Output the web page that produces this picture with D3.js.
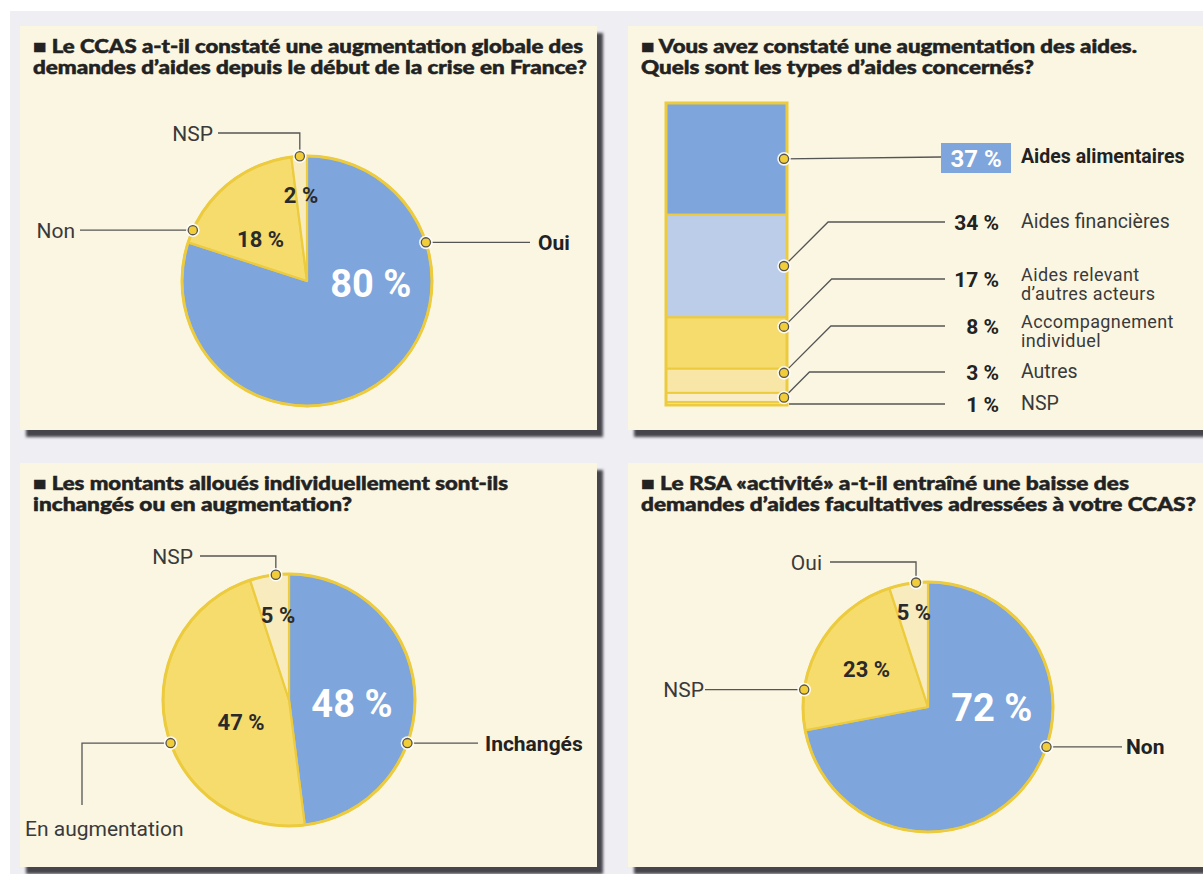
<!DOCTYPE html>
<html>
<head>
<meta charset="utf-8">
<script src="https://cdn.jsdelivr.net/npm/d3@7"></script>
<style>
  body { margin: 0; background: #fff; }
  svg { display: block; }
  .titre { font-family: Lato, "Open Sans", sans-serif; font-weight: 900; font-size: 18.5px; fill: #222; stroke: #222; stroke-width: 0.5px; }
  .lab { font-family: Roboto, "Liberation Sans", sans-serif; font-size: 21px; fill: #333; }
</style>
</head>
<body>
<svg id="chart" width="1203" height="874"></svg>
<script>
// --- données ---
const titre1 = ["■ Le CCAS a-t-il constaté une augmentation globale des", "demandes d’aides depuis le début de la crise en France?"];
const reponses1 = ["Oui", "Non", "NSP"];
const valeurs1 = [80, 18, 2];

const titre2 = ["■ Vous avez constaté une augmentation des aides.", "Quels sont les types d’aides concernés?"];
const types2 = [["Aides alimentaires"], ["Aides financières"], ["Aides relevant", "d’autres acteurs"], ["Accompagnement", "individuel"], ["Autres"], ["NSP"]];
const valeurs2 = [37, 34, 17, 8, 3, 1];

const titre3 = ["■ Les montants alloués individuellement sont-ils", "inchangés ou en augmentation?"];
const reponses3 = ["Inchangés", "En augmentation", "NSP"];
const valeurs3 = [48, 47, 5];

const titre4 = ["■ Le RSA «activité» a-t-il entraîné une baisse des", "demandes d’aides facultatives adressées à votre CCAS?"];
const reponses4 = ["Non", "NSP", "Oui"];
const valeurs4 = [72, 23, 5];

// --- styles ---
const bleu = "#7ea5dc", jaune = "#f6dc6c", creme = "#f8ebbd", bord = "#eccb3e";
const couleursPie = [bleu, jaune, creme];
const couleursBarre = ["#7ea5dc", "#bccdea", "#f6dc6c", "#f8e6a6", "#f9edc8", "#faf1d8"];

const svg = d3.select("#chart");
const defs = svg.append("defs");
defs.append("filter").attr("id", "flou")
    .append("feGaussianBlur").attr("stdDeviation", 1.6);

// fond gris + panneaux
svg.append("rect").attr("x", 10).attr("y", 11).attr("width", 1193).attr("height", 863).attr("fill", "#efeff3");

const panneaux = [
    { x: 20, y: 26, w: 577, h: 404 },
    { x: 628, y: 26, w: 600, h: 404 },
    { x: 20, y: 463, w: 577, h: 404 },
    { x: 628, y: 463, w: 600, h: 404 }
];
panneaux.forEach(p => {
    svg.append("rect").attr("x", p.x + 6).attr("y", p.y + 7).attr("width", p.w).attr("height", p.h)
        .attr("fill", "#45454c").attr("filter", "url(#flou)");
    svg.append("rect").attr("x", p.x).attr("y", p.y).attr("width", p.w).attr("height", p.h)
        .attr("fill", "#faf6e2");
});

// largeur visée de chaque ligne de titre (px)
function titre(lignes, x, y, largeurs) {
    lignes.forEach((l, i) => {
        svg.append("text").attr("class", "titre").attr("x", x).attr("y", y + i * 21).text(l)
            .attr("textLength", largeurs[i]).attr("lengthAdjust", "spacingAndGlyphs");
    });
}

function point(g, x, y) {
    g.append("circle").attr("cx", x).attr("cy", y).attr("r", 6.8).attr("fill", "#fff").attr("opacity", 0.9);
    g.append("circle").attr("cx", x).attr("cy", y).attr("r", 4.6)
        .attr("fill", "#f1cd3a").attr("stroke", "#55534c").attr("stroke-width", 1.3);
}

const rad = d => d * Math.PI / 180;
const polaire = (deg, r) => [r * Math.sin(rad(deg)), -r * Math.cos(rad(deg))];

function camembert(cx, cy, r, reponses, valeurs, conf) {
    const g = svg.append("g").attr("transform", `translate(${cx},${cy})`);
    const data = reponses.map((k, i) => ({ k: k, v: valeurs[i] }));
    const arcs = d3.pie().sort(null).value(d => d.v)(data);
    const arc = d3.arc().innerRadius(0).outerRadius(r);

    g.selectAll("path.part").data(arcs).join("path")
        .attr("class", "part")
        .attr("d", arc)
        .attr("fill", (d, i) => couleursPie[i])
        .attr("stroke", bord).attr("stroke-width", 2.2).attr("stroke-linejoin", "round");
    g.append("circle").attr("r", r).attr("fill", "none").attr("stroke", bord).attr("stroke-width", 3);

    // pourcentages
    arcs.forEach((d, i) => {
        const [a, f] = conf.lab[i];
        const [x, y] = polaire(a, f * r);
        g.append("text")
            .attr("x", x).attr("y", y).attr("dy", "0.36em")
            .attr("text-anchor", "middle")
            .style("font-family", "Roboto, sans-serif")
            .style("font-weight", 700)
            .style("font-size", i === 0 ? "38px" : "22px")
            .style("fill", i === 0 ? "#fff" : "#2a2a2a")
            .text(d.data.v + " %");
    });

    // légendes avec traits
    arcs.forEach((d, i) => {
        const c = conf.call[i];
        const [x0, y0] = polaire(c.a, r);
        const pts = [[x0, y0]];
        let x = x0, y = y0;
        c.path.forEach(([t, v]) => {
            if (t === "h") x = v; else y = v;
            pts.push([x, y]);
        });
        g.append("path")
            .attr("d", d3.line()(pts))
            .attr("fill", "none").attr("stroke", "#555").attr("stroke-width", 1.3);
        point(g, x0, y0);
        g.append("text").attr("class", "lab")
            .attr("x", c.lx).attr("y", c.ly !== undefined ? c.ly : y).attr("dy", "0.36em")
            .attr("text-anchor", c.anchor)
            .style("font-weight", c.bold ? 700 : 400)
            .style("fill", c.bold ? "#222" : "#3a3a3a")
            .text(d.data.k);
    });
}

// --- panneau 1 ---
titre(titre1, 33, 53, [550, 554]);
camembert(307, 281, 125, reponses1, valeurs1, {
    lab: [[92, 0.51], [312, 0.5], [356, 0.69]],
    call: [
        { a: 72, path: [["h", 223]], lx: 231, anchor: "start", bold: true },
        { a: 294, path: [["h", -227]], lx: -232, anchor: "end" },
        { a: 356.7, path: [["v", -148], ["h", -89]], lx: -94, anchor: "end" }
    ]
});

// --- panneau 2 : barre empilée ---
titre(titre2, 641, 53, [496, 393]);
(function () {
    const y = d3.scaleLinear().domain([0, 100]).range([103, 405]);
    const x0 = 666, larg = 121;
    const fin = d3.cumsum(valeurs2);
    const debut = fin.map((f, i) => f - valeurs2[i]);
    const g = svg.append("g");

    g.selectAll("rect.seg").data(valeurs2).join("rect")
        .attr("class", "seg")
        .attr("x", x0).attr("width", larg)
        .attr("y", (d, i) => y(debut[i]))
        .attr("height", (d, i) => y(fin[i]) - y(debut[i]))
        .attr("fill", (d, i) => couleursBarre[i])
        .attr("stroke", bord).attr("stroke-width", 2);
    g.append("rect").attr("x", x0).attr("y", y(0)).attr("width", larg).attr("height", y(100) - y(0))
        .attr("fill", "none").attr("stroke", bord).attr("stroke-width", 3);

    // position du point dans chaque segment, ligne de la légende
    const fracPoint = [0.5, 0.5, 0.18, 0.17, 0.5, null];
    const lignes = [157, 222, 279, 326, 372, 404];
    const xPt = x0 + larg - 3, xFin = 945, xPct = 999, xTxt = 1021;

    valeurs2.forEach((v, i) => {
        const ly = lignes[i];
        let pts;
        if (fracPoint[i] === null) {
            pts = [[x0 + larg + 2, ly], [xFin, ly]];
        } else {
            const py = y(debut[i]) + fracPoint[i] * (y(fin[i]) - y(debut[i]));
            pts = [[xPt, py]];
            if (Math.abs(py - ly) > 3) pts.push([xPt + (py - ly), ly]);
            pts.push([i === 0 ? 941 : xFin, ly]);
        }
        g.append("path").attr("d", d3.line()(pts))
            .attr("fill", "none").attr("stroke", "#555").attr("stroke-width", 1.3);
        if (fracPoint[i] !== null) point(g, pts[0][0], pts[0][1]);

        if (i === 0) {
            g.append("rect").attr("x", 941).attr("y", ly - 14).attr("width", 70).attr("height", 30).attr("fill", bleu);
            g.append("text").attr("x", 976).attr("y", ly + 1).attr("dy", "0.36em").attr("text-anchor", "middle")
                .style("font-family", "Roboto, sans-serif").style("font-weight", 700).style("font-size", "24px")
                .style("fill", "#fff").text(v + " %");
        } else {
            g.append("text").attr("class", "lab").attr("x", xPct).attr("y", ly).attr("dy", "0.36em")
                .attr("text-anchor", "end").style("font-weight", 700).style("font-size", "21px")
                .style("fill", "#222").text(v + " %");
        }
        const deux = types2[i].length > 1;
        types2[i].forEach((t, j) => {
            g.append("text").attr("class", "lab").attr("x", xTxt)
                .attr("y", ly + (deux ? -4 + j * 19 : 0)).attr("dy", "0.33em")
                .style("font-size", deux ? "18px" : "19.5px")
                .style("letter-spacing", deux ? "0.4px" : "0px")
                .style("font-weight", i === 0 ? 700 : 400)
                .style("fill", i === 0 ? "#222" : "#3a3a3a")
                .text(t);
        });
    });
})();

// --- panneau 3 ---
titre(titre3, 33, 490, [475, 319]);
camembert(289, 700, 126, reponses3, valeurs3, {
    lab: [[93, 0.5], [245, 0.42], [352.6, 0.68]],
    call: [
        { a: 110, path: [["h", 189]], lx: 196, anchor: "start", bold: true },
        { a: 250, path: [["h", -207], ["v", 105]], lx: -264, ly: 128, anchor: "start" },
        { a: 354, path: [["v", -144], ["h", -89]], lx: -96, anchor: "end" }
    ]
});

// --- panneau 4 ---
titre(titre4, 641, 490, [488, 555]);
camembert(928, 707, 125, reponses4, valeurs4, {
    lab: [[90, 0.51], [302, 0.58], [351.6, 0.77]],
    call: [
        { a: 108.6, path: [["h", 194]], lx: 198, anchor: "start", bold: true },
        { a: 278, path: [["h", -223]], lx: -224, anchor: "end" },
        { a: 354.5, path: [["v", -145], ["h", -98]], lx: -106, anchor: "end" }
    ]
});
</script>
</body>
</html>
